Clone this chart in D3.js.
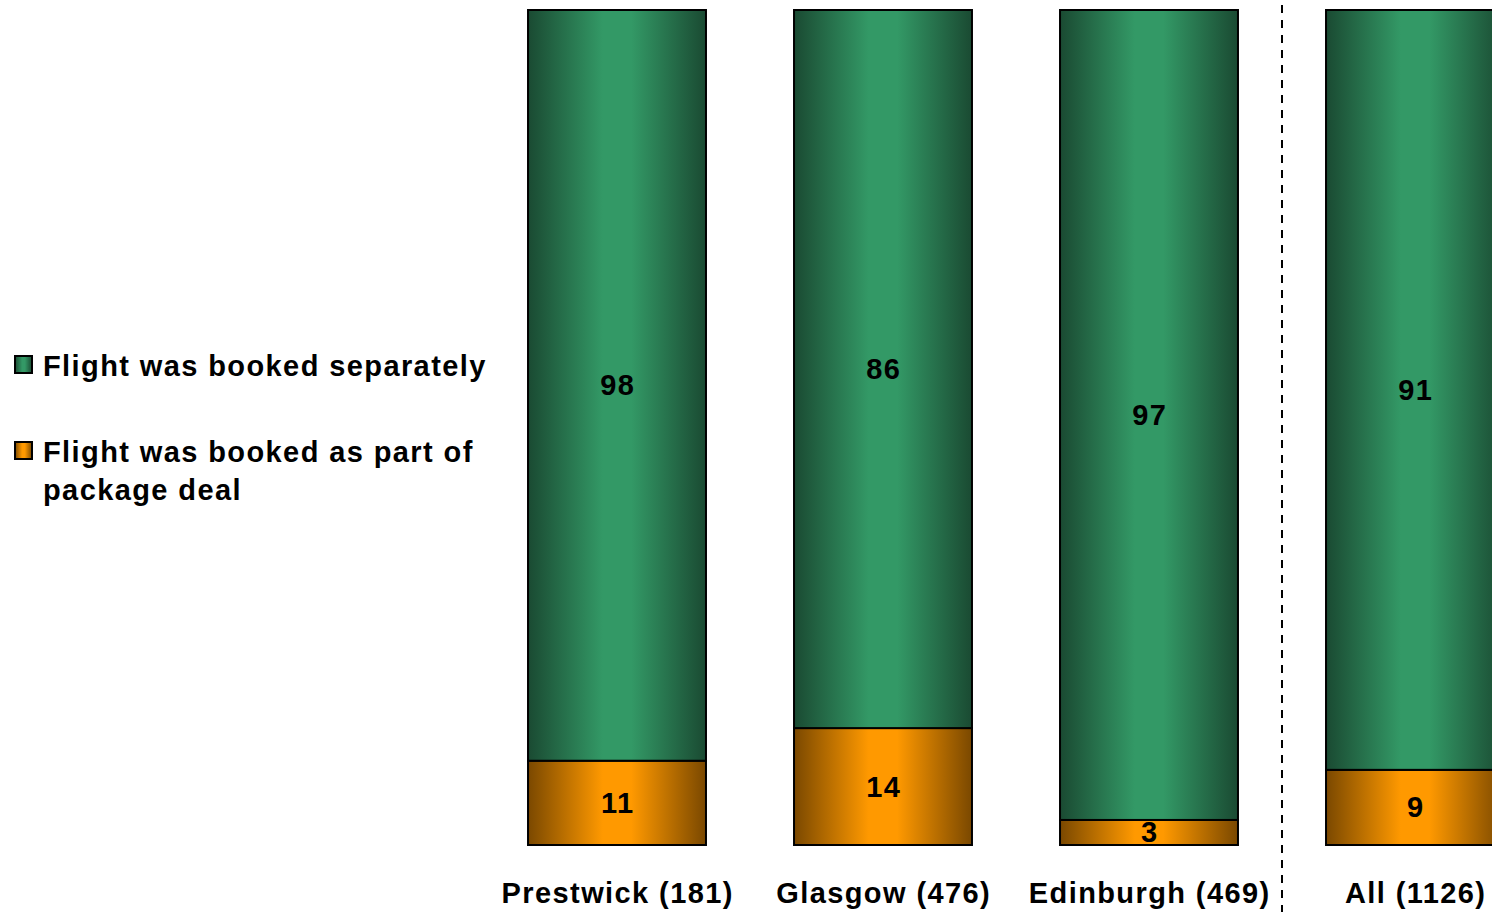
<!DOCTYPE html>
<html><head><meta charset="utf-8">
<script src="https://cdn.jsdelivr.net/npm/d3@7"></script>
<style>html,body{margin:0;padding:0;background:#fff;overflow:hidden}</style>
</head><body><svg id="c" width="1492" height="912"></svg>
<script>
const categories = ["Prestwick (181)", "Glasgow (476)", "Edinburgh (469)", "All (1126)"];
const bookedSeparately = [98, 86, 97, 91];
const packageDeal = [11, 14, 3, 9];
const seriesNames = ["Flight was booked as part of package deal", "Flight was booked separately"];

const svg = d3.select("#c");
const font = "'Liberation Sans', Arial, sans-serif";
const LS = 1.4;

const defs = svg.append("defs");
function grad(id, edge, mid) {
  const g = defs.append("linearGradient").attr("id", id).attr("x1", "0%").attr("x2", "100%").attr("y1", "0%").attr("y2", "0%");
  [[0, edge], [0.42, mid], [0.58, mid], [1, edge]].forEach(([o, c]) => g.append("stop").attr("offset", o).attr("stop-color", c));
}
grad("gGreen", "#1a4a32", "#339966");
grad("gOrange", "#7a4800", "#ff9900");

const rows = categories.map((c, i) => ({cat: c, pkg: packageDeal[i], sep: bookedSeparately[i]}));
const stack = d3.stack().keys(["pkg", "sep"]).offset(d3.stackOffsetExpand)(rows);

const x = d3.scaleBand().domain(categories).range([484, 1548]).paddingInner(0.331).paddingOuter(0.1655);
const y = d3.scaleLinear().domain([0, 1]).range([845, 10]);

const fills = {pkg: "url(#gOrange)", sep: "url(#gGreen)"};

stack.forEach(layer => {
  const g = svg.append("g");
  g.selectAll("rect").data(layer).join("rect")
    .attr("x", d => x(d.data.cat))
    .attr("y", d => y(d[1]))
    .attr("width", x.bandwidth())
    .attr("height", d => y(d[0]) - y(d[1]))
    .attr("fill", fills[layer.key])
    .attr("stroke", "#000").attr("stroke-width", 2);
  g.selectAll("text").data(layer).join("text")
    .attr("x", d => x(d.data.cat) + x.bandwidth() / 2 + LS / 2)
    .attr("y", d => (y(d[0]) + y(d[1])) / 2 + 10)
    .attr("text-anchor", "middle")
    .attr("letter-spacing", LS)
    .attr("font-family", font).attr("font-weight", "bold").attr("font-size", 29)
    .text(d => d.data[layer.key]);
});

// category labels
svg.append("g").selectAll("text").data(categories).join("text")
  .attr("x", d => x(d) + x.bandwidth() / 2 + LS / 2)
  .attr("y", 903)
  .attr("text-anchor", "middle")
  .attr("letter-spacing", LS)
  .attr("font-family", font).attr("font-weight", "bold").attr("font-size", 29)
  .text(d => d);

// dashed separator between Edinburgh and All
const sepX = (x(categories[2]) + x.bandwidth() + x(categories[3])) / 2;
svg.append("line").attr("x1", sepX).attr("x2", sepX).attr("y1", 5).attr("y2", 912)
  .attr("stroke", "#000").attr("stroke-width", 2).attr("stroke-dasharray", "8,7");

// legend
const legend = [
  {name: "Flight was booked separately", lines: ["Flight was booked separately"], fill: "url(#gGreen)", y: 365},
  {name: "Flight was booked as part of package deal", lines: ["Flight was booked as part of", "package deal"], fill: "url(#gOrange)", y: 451}
];
const lg = svg.append("g").selectAll("g").data(legend).join("g");
lg.append("rect").attr("x", 15).attr("y", d => d.y - 9).attr("width", 17).attr("height", 17)
  .attr("fill", d => d.fill).attr("stroke", "#000").attr("stroke-width", 2);
lg.append("text").attr("font-family", font).attr("font-weight", "bold").attr("font-size", 29)
  .attr("letter-spacing", LS)
  .selectAll("tspan").data(d => d.lines.map((l, i) => ({l, i, y: d.y}))).join("tspan")
  .attr("x", 43).attr("y", t => t.y + 11 + t.i * 38).text(t => t.l);
</script></body></html>
